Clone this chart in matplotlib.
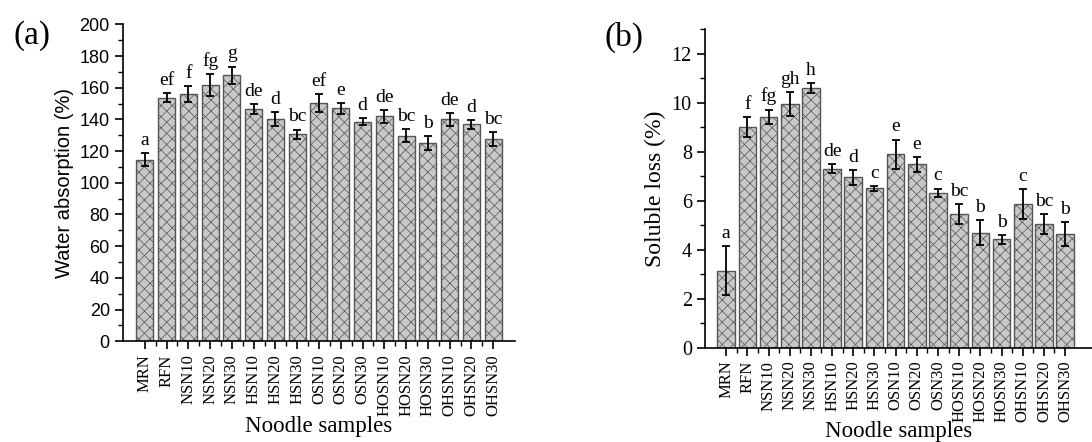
import matplotlib
matplotlib.use("Agg")
import matplotlib.pyplot as plt
import numpy as np
from matplotlib.ticker import MultipleLocator

samples = ["MRN", "RFN", "NSN10", "NSN20", "NSN30", "HSN10", "HSN20", "HSN30",
           "OSN10", "OSN20", "OSN30", "HOSN10", "HOSN20", "HOSN30",
           "OHSN10", "OHSN20", "OHSN30"]

water = [114.5, 153.7, 155.8, 161.5, 167.8, 146.4, 140.2, 130.6, 150.2, 147.0,
         138.6, 141.9, 129.7, 124.9, 140.0, 136.9, 127.6]
water_err = [4.0, 3.0, 5.0, 7.0, 5.5, 3.3, 4.6, 3.0, 5.7, 3.5,
             2.3, 4.0, 4.0, 4.4, 4.0, 2.7, 4.2]
water_letters = ["a", "ef", "f", "fg", "g", "de", "d", "bc", "ef", "e",
                 "d", "de", "bc", "b", "de", "d", "bc"]

loss = [3.14, 9.0, 9.42, 9.95, 10.6, 7.3, 6.95, 6.5, 7.89, 7.48,
        6.31, 5.46, 4.69, 4.42, 5.86, 5.04, 4.63]
loss_err = [1.0, 0.4, 0.3, 0.5, 0.2, 0.18, 0.3, 0.1, 0.6, 0.3,
            0.18, 0.4, 0.5, 0.18, 0.6, 0.4, 0.48]
loss_letters = ["a", "f", "fg", "gh", "h", "de", "d", "c", "e", "e",
                "c", "bc", "b", "b", "c", "bc", "b"]

SERIF = "Liberation Serif"
SANS = "Liberation Sans"

plt.rcParams["hatch.linewidth"] = 0.5

fig = plt.figure(figsize=(10.92, 4.42), dpi=100)
x = np.arange(len(samples))


def draw_panel(ax, vals, errs, letters, bar_w, label_y):
    ax.bar(x, vals, width=bar_w, color="#c8c8c8", edgecolor="#555555",
           linewidth=1.0, hatch="xxx", zorder=2)
    ax.errorbar(x, vals, yerr=errs, fmt="none", ecolor="black",
                elinewidth=1.3, capsize=3, capthick=1.3, zorder=3)
    for xi, v, e, lab in zip(x, vals, errs, letters):
        ax.annotate(lab, (xi, v + e), xytext=(0, 3), textcoords="offset points",
                    ha="center", va="bottom", fontsize=14, family=SERIF)
    for s in ["top", "right"]:
        ax.spines[s].set_visible(False)
    ax.spines["left"].set_linewidth(1.2)
    ax.spines["bottom"].set_linewidth(1.2)
    ax.set_xticks(x)
    ax.set_xticks(x[:-1] + 0.5, minor=True)
    ax.set_xticklabels(samples, rotation=90, family=SERIF, fontsize=12)
    ax.tick_params(axis="both", which="major", direction="out", length=6, width=1.2)
    ax.tick_params(axis="both", which="minor", direction="out", length=3.5, width=1.0)
    ax.set_xlabel("Noodle samples", family=SERIF, fontsize=16.5)
    ax.xaxis.set_label_coords(0.5, label_y)


# panel (a)
ax1 = fig.add_axes([0.1126, 0.228, 0.359, 0.717])
draw_panel(ax1, water, water_err, water_letters, 0.78, -0.235)
ax1.set_xlim(-1, 17)
ax1.set_ylim(0, 200)
ax1.yaxis.set_major_locator(MultipleLocator(20))
ax1.yaxis.set_minor_locator(MultipleLocator(10))
for t in ax1.get_yticklabels():
    t.set_family(SANS)
    t.set_fontsize(13)
ax1.set_ylabel("Water absorption (%)", family=SANS, fontsize=14.5, labelpad=4)
fig.text(0.029, 0.92, "(a)", family=SERIF, fontsize=24, ha="center", va="center")

# panel (b)
ax2 = fig.add_axes([0.6456, 0.2138, 0.354, 0.72])
draw_panel(ax2, loss, loss_err, loss_letters, 0.83, -0.23)
ax2.set_xlim(-1, 17.25)
ax2.set_ylim(0, 13)
ax2.yaxis.set_major_locator(MultipleLocator(2))
ax2.yaxis.set_minor_locator(MultipleLocator(1))
for t in ax2.get_yticklabels():
    t.set_family(SERIF)
    t.set_fontsize(14.5)
ax2.set_ylabel("Soluble loss (%)", family=SERIF, fontsize=17, labelpad=4)
fig.text(0.5714, 0.915, "(b)", family=SERIF, fontsize=24, ha="center", va="center")

fig.savefig("out.png", dpi=100)
